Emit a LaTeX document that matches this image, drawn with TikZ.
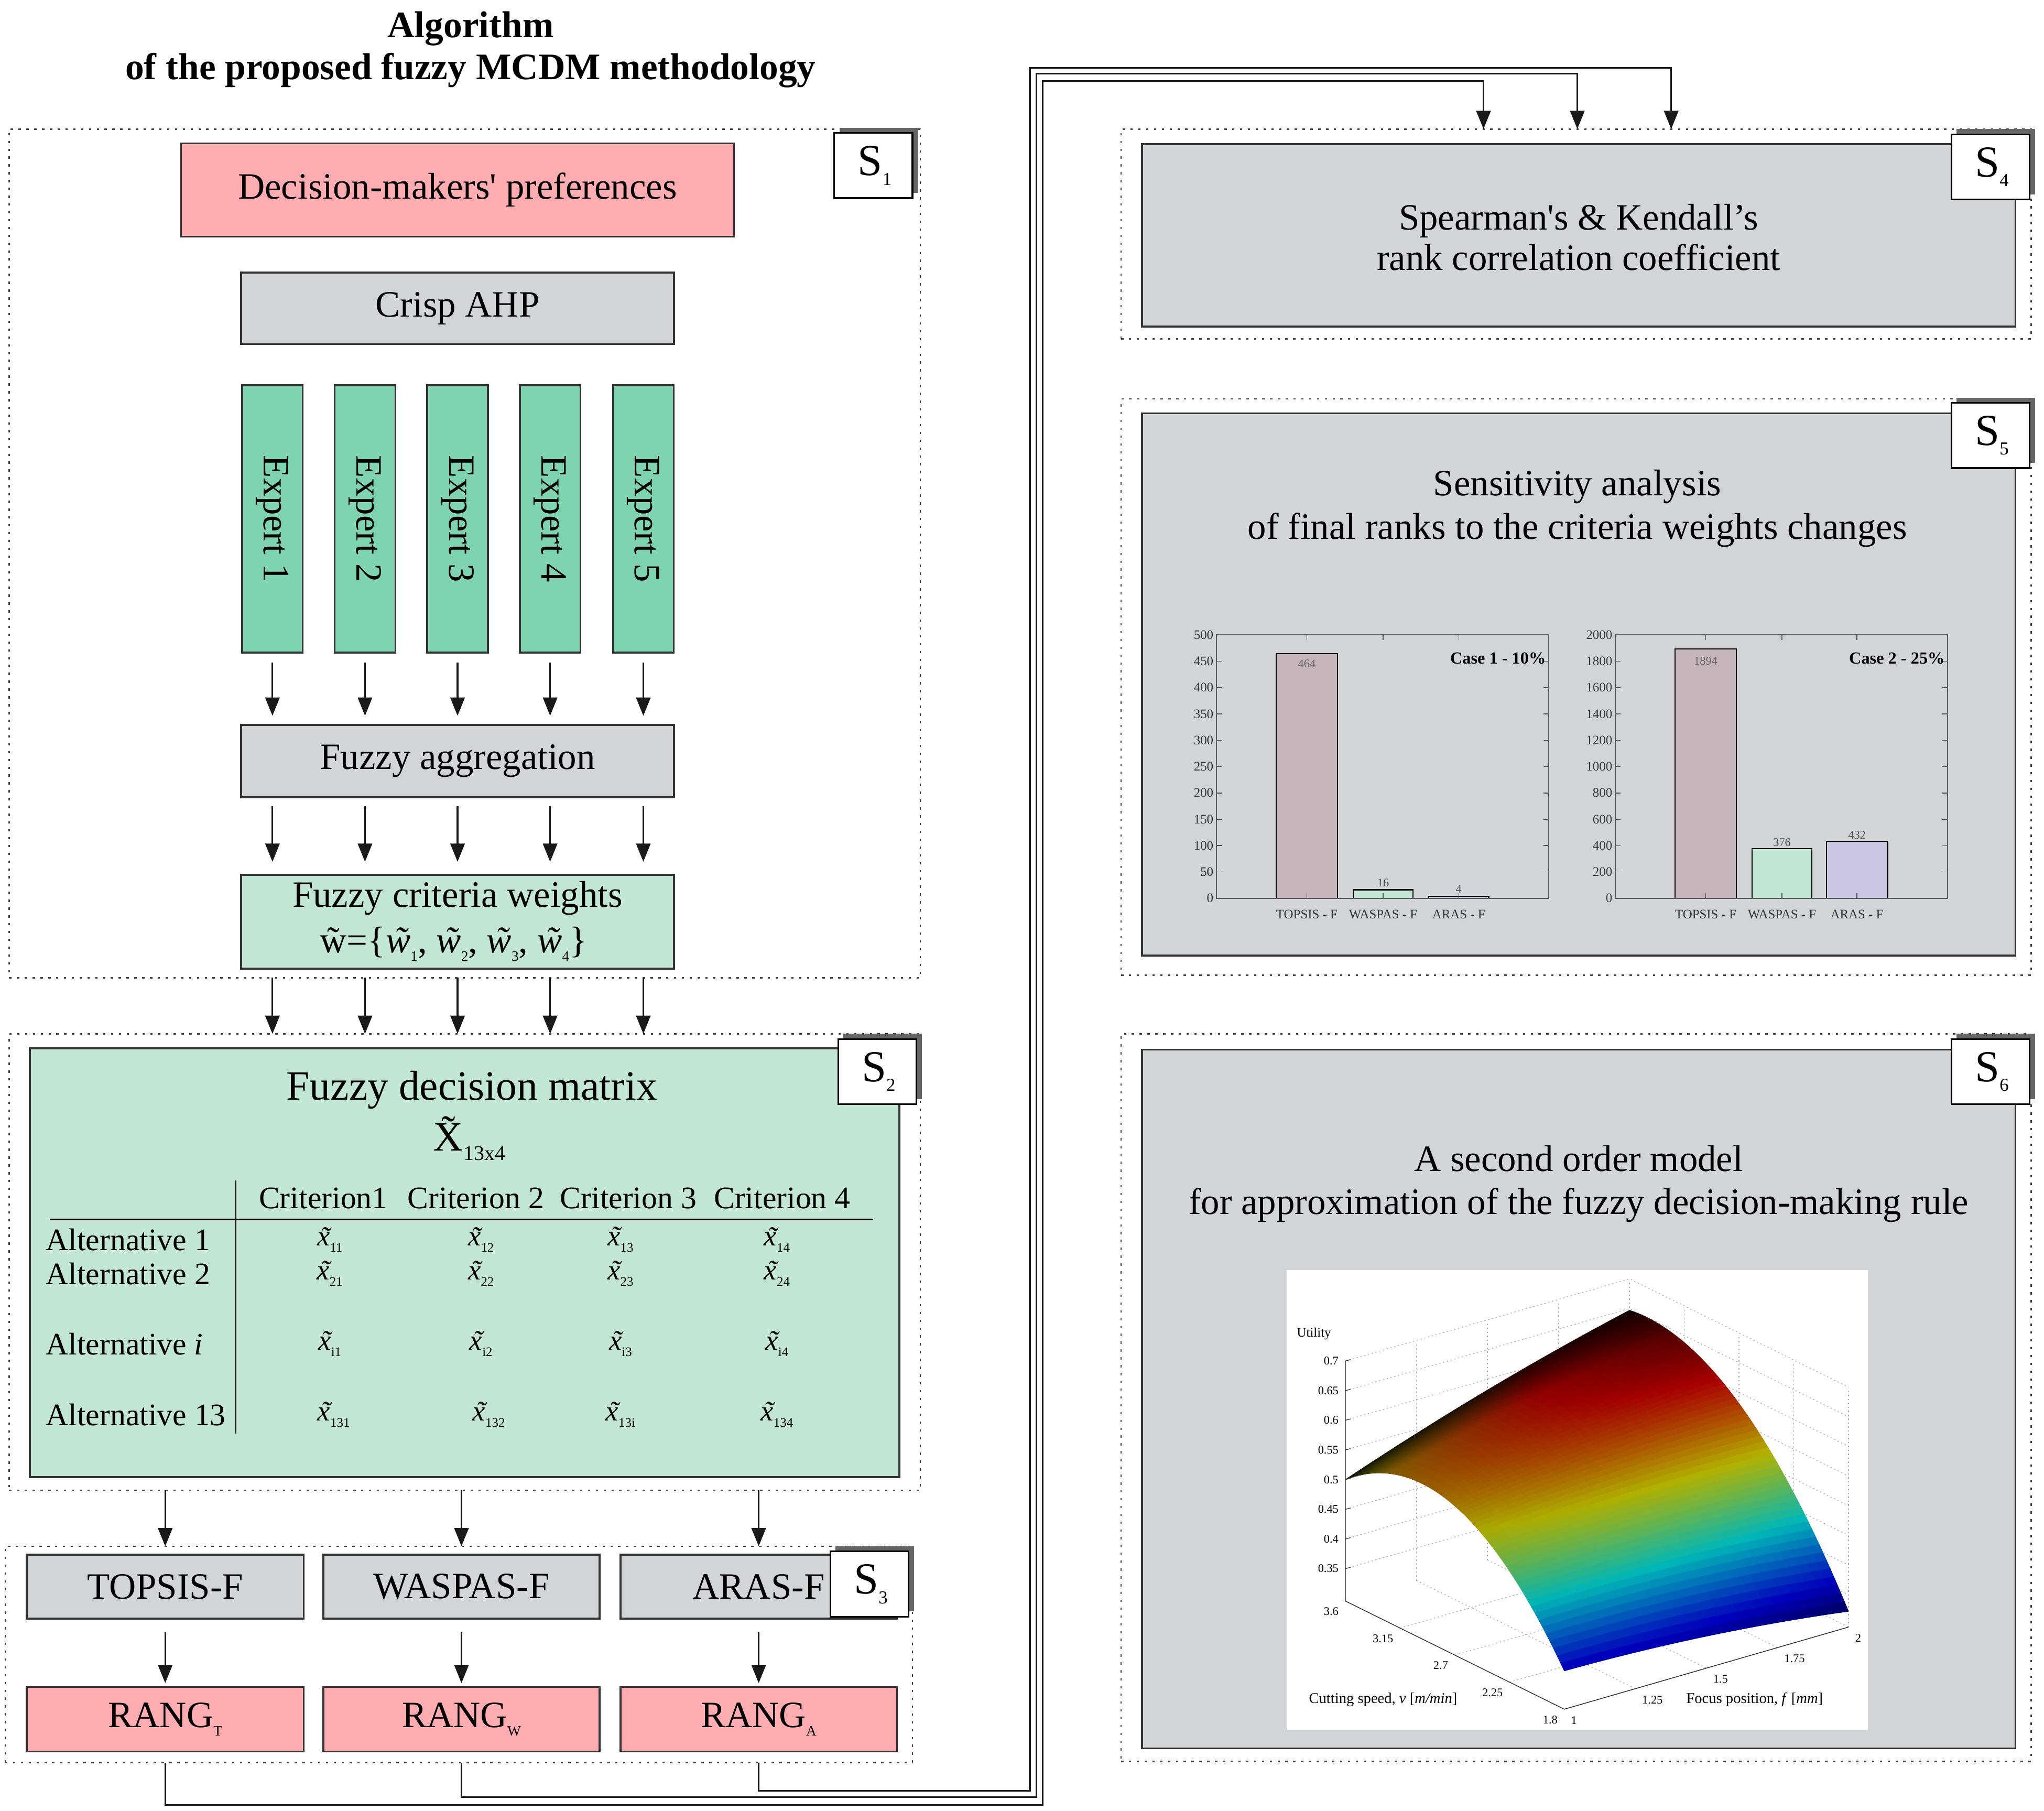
\documentclass[tikz,border=0pt]{standalone}
\usepackage{fontspec}
\setmainfont{Liberation Serif}
\usetikzlibrary{arrows.meta,fit,calc}

\definecolor{pinkc}{RGB}{255,173,177}
\definecolor{grayc}{RGB}{211,212,214}
\definecolor{expc}{RGB}{126,212,174}
\definecolor{lgreen}{RGB}{194,232,213}
\definecolor{mauve}{RGB}{199,181,188}
\definecolor{lav}{RGB}{203,197,228}

\newcommand\lsub[2]{\raisebox{-0.22em}{\fontsize{#1}{#1}\selectfont #2}}
\newcommand\tl[3]{\ooalign{#3\cr\hidewidth\kern#1\raisebox{#2}{\char"02DC}\hidewidth\cr}}
\newcommand\xe[1]{\textit{\tl{0.12em}{-0.02em}{x}}\lsub{10}{#1}}
\newcommand\wt[1]{\textit{\tl{0.12em}{0em}{w}}\lsub{11}{#1}}

\pgfmathdeclarefunction{uu}{2}{%
  \begingroup
  \pgfmathparse{0.5+0.327*#1-0.467*#1*#1+0.18*#2-0.033*#2*#2-0.265*#1*#2+0.08*#1*#1*#2}%
  \pgfmathsmuggle\pgfmathresult
  \endgroup}

\newcommand\slab[4]{%
  \fill[black!60] ({#2-56},{#3-4}) rectangle ({#2+4},{#3+46});
  \node[draw=black, line width=1.3pt, fill=white, inner sep=0pt, outer sep=0pt,
        minimum width=60pt, minimum height=50pt, anchor=north east] (#1) at (#2,#3) {};
  \node[font=\fontsize{34}{34}\selectfont, inner sep=0pt] (#1t) at ([xshift=1pt]#1.center) {S\lsub{14}{#4}};}

% box with centred text: name, x1, y1, x2, y2, fill, text
\newcommand\tbox[7]{%
  \node[box, fill=#6, fit={(#2,#3)(#4,#5)}] (#1) {};
  \node[txt] (#1t) at (#1.center) {#7};}

\begin{document}
\begin{tikzpicture}[x=1pt,y=-1pt,
  box/.style={draw=black!80, line width=1.4pt, inner sep=0pt, outer sep=0pt},
  dotbox/.style={draw=black!75, line width=1.1pt, dash pattern=on 1.8pt off 4.2pt, inner sep=0pt, outer sep=0pt},
  txt/.style={font=\fontsize{28.5}{32}\selectfont, align=center, inner sep=0pt},
  mtxt/.style={font=\fontsize{24}{28}\selectfont, inner sep=0pt},
  ent/.style={font=\fontsize{22}{24}\selectfont, inner sep=0pt},
  arr/.style={-{Triangle[width=11pt,length=14pt]}, line width=1.3pt, black!90},
  tick/.style={font=\fontsize{10}{10}\selectfont, text=black!80, inner sep=1pt},
  bar/.style={draw=black, line width=0.9pt},
  frm/.style={draw=black!65, line width=0.9pt},
  grd/.style={draw=black!35, line width=0.5pt, dash pattern=on 1pt off 2pt},
  ptick/.style={font=\fontsize{9}{9}\selectfont, inner sep=0pt},
]
\useasboundingbox (0,0) rectangle (1568,1389);
\fill[white] (0,0) rectangle (1568,1389);

% ---------- title
\node[font=\bfseries\fontsize{28.7}{32}\selectfont, align=center] (title) at (361,38)
  {Algorithm\\of the proposed fuzzy MCDM methodology};

% ---------- dotted stage boxes
\node[dotbox, fit={(7,99)(706,750)}] (s1) {};
\node[dotbox, fit={(7,793)(706,1143)}] (s2) {};
\node[dotbox, fit={(4,1186)(700,1352)}] (s3) {};
\node[dotbox, fit={(860,99)(1558,260)}] (s4) {};
\node[dotbox, fit={(860,306)(1558,748)}] (s5) {};
\node[dotbox, fit={(860,793)(1558,1351)}] (s6) {};

% ---------- S1
\tbox{dm}{139}{110}{563}{181.5}{pinkc}{Decision-makers\textquotesingle\ preferences}
\tbox{ahp}{185}{209}{517}{264}{grayc}{Crisp AHP}
\foreach \i/\xm in {1/209,2/280,3/351,4/422,5/493.5}{
  \node[box, fill=expc, fit={({\xm-23.25},295.5)({\xm+23.25},500.5)}] (e\i) {};
  \node[txt, rotate=-90] (et\i) at (e\i.center) {Expert \i};
}
\tbox{agg}{185}{556}{517}{611.5}{grayc}{Fuzzy aggregation}
\node[box, fill=lgreen, fit={(185,671)(517,743)}] (cw) {};
\node[txt] (cwt) at (351,689) {Fuzzy criteria weights};
\node[txt] (cwf) at (348,724) {\tl{0pt}{0em}{w}=\{\wt{1}, \wt{2}, \wt{3}, \wt{4}\}};

\foreach \i in {1,...,5}{
  \draw[arr] ($(e\i.south)+(0,7.5)$) -- ($(agg.north -| e\i.south)+(0,-7)$);
  \draw[arr] ($(agg.south -| e\i.south)+(0,7)$) -- ($(cw.north -| e\i.south)+(0,-10)$);
  \draw[arr] (s1.south -| e\i.south) -- (s2.north -| e\i.south);
}

% ---------- S2
\node[box, fill=lgreen, fit={(23,804)(690,1133)}] (fdm) {};
\node[font=\fontsize{32}{34}\selectfont, inner sep=0pt] (fdmt) at (362,836) {Fuzzy decision matrix};
\node[font=\fontsize{32}{34}\selectfont, inner sep=0pt] (fdmx) at (360,876) {\tl{0pt}{0.16em}{X}\lsub{16}{13x4}};
\draw[line width=1pt] (181,905.5) -- (181,1099.5);
\draw[line width=1.2pt] (38,935.2) -- (670,935.2);
\node[mtxt] (c1) at (248,919) {Criterion1};
\node[mtxt] (c2) at (365,919) {Criterion 2};
\node[mtxt] (c3) at (482,919) {Criterion 3};
\node[mtxt] (c4) at (600,919) {Criterion 4};
\node[mtxt, anchor=west] (a1) at (35,951) {Alternative 1};
\node[mtxt, anchor=west] (a2) at (35,977) {Alternative 2};
\node[mtxt, anchor=west] (ai) at (35,1031) {Alternative \textit{i}};
\node[mtxt, anchor=west] (a13) at (35,1085) {Alternative 13};
\node[ent] (m11) at (253,953) {\xe{11}};
\node[ent] (m12) at (369,953) {\xe{12}};
\node[ent] (m13) at (476,953) {\xe{13}};
\node[ent] (m14) at (596,953) {\xe{14}};
\node[ent] (m21) at (253,979) {\xe{21}};
\node[ent] (m22) at (369,979) {\xe{22}};
\node[ent] (m23) at (476,979) {\xe{23}};
\node[ent] (m24) at (596,979) {\xe{24}};
\node[ent] (mi1) at (253,1033) {\xe{i1}};
\node[ent] (mi2) at (369,1033) {\xe{i2}};
\node[ent] (mi3) at (476,1033) {\xe{i3}};
\node[ent] (mi4) at (596,1033) {\xe{i4}};
\node[ent] (mn1) at (256,1087) {\xe{131}};
\node[ent] (mn2) at (375,1087) {\xe{132}};
\node[ent] (mn3) at (476,1087) {\xe{13i}};
\node[ent] (mn4) at (596,1087) {\xe{134}};

% ---------- S3
\tbox{tf}{20.5}{1192.5}{233}{1241.5}{grayc}{TOPSIS-F}
\tbox{wf}{248}{1192.5}{460}{1241.5}{grayc}{WASPAS-F}
\tbox{af}{476}{1192.5}{688}{1241.5}{grayc}{ARAS-F}
\tbox{rt}{20.5}{1294}{233}{1343.5}{pinkc}{RANG\lsub{11}{T}}
\tbox{rw}{248}{1294}{460}{1343.5}{pinkc}{RANG\lsub{11}{W}}
\tbox{ra}{476}{1294}{688}{1343.5}{pinkc}{RANG\lsub{11}{A}}
\foreach \a/\b in {tf/rt,wf/rw,af/ra}{
  \draw[arr] (s2.south -| \a.south) -- (s3.north -| \a.south);
  \draw[arr] ($(\a.south)+(0,10.5)$) -- ($(\b.north)+(0,-3)$);
}

% ---------- long connectors S3 -> S4
\coordinate (ba) at (790,1373.5);
\coordinate (bw) at (795,1378.5);
\coordinate (bt) at (800,1384.3);
\coordinate (ka) at (1282,52);
\coordinate (kw) at (1210,56.5);
\coordinate (kt) at (1138,62);
\draw[arr] (s3.south -| ra.south) |- (ba) |- (ka) -- (ka |- s4.north);
\draw[arr] (s3.south -| rw.south) |- (bw) |- (kw) -- (kw |- s4.north);
\draw[arr] (s3.south -| rt.south) |- (bt) |- (kt) -- (kt |- s4.north);

% ---------- S4
\node[box, fill=grayc, fit={(876,110.5)(1546,250.5)}] (sp) {};
\node[txt, font=\fontsize{28.5}{31}\selectfont] (spt) at (1211,182)
  {Spearman\textquotesingle s \& Kendall’s\\rank correlation coefficient};

% ---------- S5
\node[box, fill=grayc, fit={(876,317)(1546,733)}] (sa) {};
\node[txt, font=\fontsize{28.5}{33}\selectfont] (sat) at (1210,390)
  {Sensitivity analysis\\of final ranks to the criteria weights changes};
% chart 1
\foreach \v in {0,50,...,500}{
  \draw[black!70, line width=0.6pt] (933,{689-\v*0.404}) -- (937,{689-\v*0.404});
  \draw[black!70, line width=0.6pt] (1188,{689-\v*0.404}) -- (1184,{689-\v*0.404});
  \node[tick, anchor=east] at (932,{689-\v*0.404}) {\v};
}
\filldraw[bar, fill=mauve] (979,689) rectangle (1026,501.5);
\filldraw[bar, fill=lgreen] (1038,689) rectangle (1084,682.5);
\filldraw[bar, fill=lav] (1096,689) rectangle (1142,687.4);
\draw[frm] (933,487) rectangle (1188,689);
\foreach \xb in {1002.5,1061,1119}{
  \draw[black!70, line width=0.6pt] (\xb,487) -- (\xb,491);
  \draw[black!70, line width=0.6pt] (\xb,689) -- (\xb,685);
}
\node[tick, text=black!60, font=\fontsize{9}{9}\selectfont] at (1002.5,509) {464};
\node[tick, text=black!70, font=\fontsize{9}{9}\selectfont] at (1061,677) {16};
\node[tick, text=black!70, font=\fontsize{9}{9}\selectfont] at (1119,682) {4};
\node[tick] at (1002.5,701.5) {TOPSIS - F};
\node[tick] at (1061,701.5) {WASPAS - F};
\node[tick] at (1119,701.5) {ARAS - F};
\node[anchor=east, inner sep=0pt, font=\bfseries\fontsize{13}{13}\selectfont] at (1186,505) {Case 1 - 10\%};
% chart 2
\foreach \v in {0,200,...,2000}{
  \draw[black!70, line width=0.6pt] (1239,{689-\v*0.101}) -- (1243,{689-\v*0.101});
  \draw[black!70, line width=0.6pt] (1494,{689-\v*0.101}) -- (1490,{689-\v*0.101});
  \node[tick, anchor=east] at (1238,{689-\v*0.101}) {\v};
}
\filldraw[bar, fill=mauve] (1285,689) rectangle (1332,497.7);
\filldraw[bar, fill=lgreen] (1344,689) rectangle (1390,651);
\filldraw[bar, fill=lav] (1401,689) rectangle (1448,645.4);
\draw[frm] (1239,487) rectangle (1494,689);
\foreach \xb in {1308.5,1367,1424.5}{
  \draw[black!70, line width=0.6pt] (\xb,487) -- (\xb,491);
  \draw[black!70, line width=0.6pt] (\xb,689) -- (\xb,685);
}
\node[tick, text=black!60, font=\fontsize{9}{9}\selectfont] at (1308.5,507) {1894};
\node[tick, text=black!70, font=\fontsize{9}{9}\selectfont] at (1367,646) {376};
\node[tick, text=black!70, font=\fontsize{9}{9}\selectfont] at (1424.5,640.6) {432};
\node[tick] at (1308.5,701.5) {TOPSIS - F};
\node[tick] at (1367,701.5) {WASPAS - F};
\node[tick] at (1424.5,701.5) {ARAS - F};
\node[anchor=east, inner sep=0pt, font=\bfseries\fontsize{13}{13}\selectfont] at (1492,505) {Case 2 - 25\%};

% ---------- S6
\node[box, fill=grayc, fit={(876,805)(1546,1341)}] (so) {};
\node[txt, font=\fontsize{28.5}{33}\selectfont] (sot) at (1211,908)
  {A second order model\\for approximation of the fuzzy decision-making rule};
\fill[white] (987,974) rectangle (1433,1327);
% grid: back-left wall (t=0), back-right wall (s=1), floor
\foreach \u in {0.35,0.4,...,0.70}{
  \draw[grd] (1032,{1228-455.2*(\u-0.2955)}) -- (1250,{1165-455.2*(\u-0.2955)}) -- (1418,{1248-455.2*(\u-0.2955)});
}
\foreach \s in {0.25,0.5,0.75,1}{
  \draw[grd] ({1032+218*\s},{1228-63*\s}) -- ({1032+218*\s},{1228-63*\s-183});
  \draw[grd] ({1032+218*\s},{1228-63*\s}) -- ({1200+218*\s},{1311-63*\s});
}
\foreach \t in {0.25,0.5,0.75,1}{
  \draw[grd] ({1250+168*\t},{1165+83*\t}) -- ({1250+168*\t},{1165+83*\t-183});
  \draw[grd] ({1032+168*\t},{1228+83*\t}) -- ({1250+168*\t},{1165+83*\t});
}
% surface
\foreach \i in {0,...,59}{
 \foreach \j in {0,...,29}{
  \pgfmathsetmacro\qta{\i/60}
  \pgfmathsetmacro\qtb{(\i+1)/60}
  \pgfmathsetmacro\qsa{\j/30}
  \pgfmathsetmacro\qsb{(\j+1)/30}
  \pgfmathsetmacro\qxa{1032+168*\qta+218*\qsa}
  \pgfmathsetmacro\qxb{1032+168*\qtb+218*\qsa}
  \pgfmathsetmacro\qxc{1032+168*\qtb+218*\qsb}
  \pgfmathsetmacro\qxd{1032+168*\qta+218*\qsb}
  \pgfmathsetmacro\qya{1228+83*\qta-63*\qsa-455.2*(uu(\qta,\qsa)-0.2955)}
  \pgfmathsetmacro\qyb{1228+83*\qtb-63*\qsa-455.2*(uu(\qtb,\qsa)-0.2955)}
  \pgfmathsetmacro\qyc{1228+83*\qtb-63*\qsb-455.2*(uu(\qtb,\qsb)-0.2955)}
  \pgfmathsetmacro\qyd{1228+83*\qta-63*\qsb-455.2*(uu(\qta,\qsb)-0.2955)}
  \pgfmathsetmacro\qtc{(\i+0.5)/60}
  \pgfmathsetmacro\qsc{(\j+0.5)/30}
  \pgfmathsetmacro\qcc{max(0,min(1,(uu(\qtc,\qsc)-0.322)/0.3255))}
  \pgfmathsetmacro\qdut{0.327-0.934*\qtc-0.265*\qsc+0.16*\qtc*\qsc}
  \pgfmathsetmacro\qdus{0.18-0.066*\qsc-0.265*\qtc+0.08*\qtc*\qtc}
  \pgfmathsetmacro\qdd{abs(16.8*(-6.3-45.52*\qdus)-21.8*(8.3-45.52*\qdut))}
  \pgfmathsetmacro\qkk{(1-min(0.78,8/sqrt(max(\qdd,1))))*min(1,0.25+0.75*\qtc/0.2)}
  \pgfmathsetmacro\qcr{\qkk*max(0,min(1,1.5-abs(4*\qcc-3)))}
  \pgfmathsetmacro\qcg{\qkk*max(0,min(1,1.5-abs(4*\qcc-2)))}
  \pgfmathsetmacro\qcb{\qkk*max(0,min(1,1.5-abs(4*\qcc-1)))}
  \definecolor{pc}{rgb}{\qcr,\qcg,\qcb}
  \filldraw[fill=pc, draw=pc, line width=0.35pt, line join=round]
    (\qxa,\qya) -- (\qxb,\qyb) -- (\qxc,\qyc) -- (\qxd,\qyd) -- cycle;
 }
}
% axes
\draw[black!80, line width=0.6pt] (1032,1044) -- (1032,1228) -- (1200,1311) -- (1418,1248);
\foreach \u/\l in {0.7/0.7,0.65/0.65,0.6/0.6,0.55/0.55,0.5/0.5,0.45/0.45,0.4/0.4,0.35/0.35}{
  \draw[black!80, line width=0.5pt] (1032,{1228-455.2*(\u-0.2955)}) -- (1036,{1227-455.2*(\u-0.2955)});
  \node[ptick, anchor=east] at (1027,{1228-455.2*(\u-0.2955)}) {\l};
}
\foreach \t/\l in {0/3.6,0.25/3.15,0.5/2.7,0.75/2.25,1/1.8}{
  \node[ptick, anchor=east] at ({1027+168*\t},{1236+83*\t}) {\l};
}
\foreach \s/\l in {0/1,0.25/1.25,0.5/1.5,0.75/1.75,1/2}{
  \node[ptick, anchor=west] at ({1205+218*\s},{1319.5-63*\s}) {\l};
}
\node[ptick, font=\fontsize{10}{10}\selectfont] (util) at (1008,1023) {Utility};
\node[inner sep=0pt, font=\fontsize{11.5}{12}\selectfont] (cs) at (1061,1303.5) {Cutting speed, \textit{v} [\textit{m/min}]};
\node[inner sep=0pt, font=\fontsize{11.5}{12}\selectfont] (fp) at (1346,1303.5) {Focus position, \textit{f} [\textit{mm}]};

% ---------- stage labels
\slab{l1}{700}{102}{1}
\slab{l2}{703}{797}{2}
\slab{l3}{697}{1190}{3}
\slab{l4}{1557}{103}{4}
\slab{l5}{1557}{309}{5}
\slab{l6}{1557}{797}{6}
\end{tikzpicture}
\end{document}
